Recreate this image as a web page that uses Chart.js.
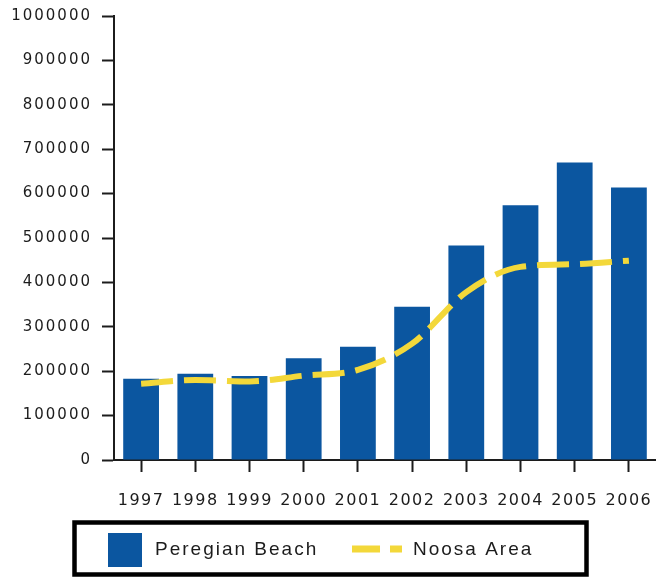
<!DOCTYPE html>
<html>
<head>
<meta charset="utf-8">
<script src="https://cdn.jsdelivr.net/npm/chart.js@4/dist/chart.umd.min.js"></script>
<style>
  html, body { margin: 0; padding: 0; background: #ffffff; }
  #wrap { width: 656px; height: 577px; position: relative; }
</style>
</head>
<body>
<div id="wrap"><canvas id="c" width="656" height="577"></canvas></div>
<script>
const categories = ['1997','1998','1999','2000','2001','2002','2003','2004','2005','2006'];
const peregianBeach = [183000, 194000, 189000, 229000, 255000, 345000, 483000, 574000, 670000, 614000];
const noosaArea = [172000, 180000, 177000, 190000, 203000, 262000, 378000, 435000, 441000, 449000];
const yTickMin = 0, yTickMax = 1000000, yTickStep = 100000;

const BLUE = '#0B56A0';
const YELLOW = '#F3D83A';
const INK = '#1c1c1c';

function wrapSpacing(s, spacing) {
  if (!s || s.__wrapped) return;
  const orig = s.drawLabels.bind(s);
  s.drawLabels = function (ca) {
    const ctx = this.ctx;
    ctx.save();
    try { ctx.letterSpacing = spacing; } catch (e) {}
    orig(ca);
    ctx.restore();
  };
  s.__wrapped = true;
}

const spacingPlugin = {
  id: 'tickSpacing',
  beforeDraw(chart) {
    wrapSpacing(chart.scales.y, '2px');
    wrapSpacing(chart.scales.x, '1.5px');
  }
};

const legendPlugin = {
  id: 'boxLegend',
  afterDraw(chart) {
    const ctx = chart.ctx;
    const ds = chart.data.datasets;
    ctx.save();
    ctx.strokeStyle = '#000';
    ctx.lineWidth = 4.5;
    ctx.strokeRect(74.5, 522.5, 512, 52);
    ctx.fillStyle = ds[0].backgroundColor;
    ctx.fillRect(108, 533, 34, 34);
    ctx.font = '19px "Liberation Sans", Arial, sans-serif';
    try { ctx.letterSpacing = '2px'; } catch (e) {}
    ctx.fillStyle = INK;
    ctx.textBaseline = 'middle';
    ctx.textAlign = 'left';
    ctx.fillText(ds[0].label, 155, 550);
    ctx.strokeStyle = ds[1].borderColor;
    ctx.lineWidth = 7;
    ctx.setLineDash([28, 10]);
    ctx.beginPath();
    ctx.moveTo(352, 549);
    ctx.lineTo(402, 549);
    ctx.stroke();
    ctx.setLineDash([]);
    ctx.fillText(ds[1].label, 413, 550);
    ctx.restore();
  }
};

new Chart(document.getElementById('c'), {
  type: 'bar',
  data: {
    labels: categories,
    datasets: [
      {
        type: 'bar',
        label: 'Peregian Beach',
        data: peregianBeach,
        backgroundColor: BLUE,
        borderWidth: 0,
        barPercentage: 0.66,
        categoryPercentage: 1.0,
        order: 2
      },
      {
        type: 'line',
        label: 'Noosa Area',
        data: noosaArea,
        borderColor: YELLOW,
        backgroundColor: YELLOW,
        borderWidth: 6,
        borderDash: [32, 11],
        borderCapStyle: 'butt',
        pointRadius: 0,
        pointHoverRadius: 0,
        cubicInterpolationMode: 'monotone',
        fill: false,
        order: 1
      }
    ]
  },
  options: {
    responsive: false,
    animation: false,
    events: [],
    layout: { padding: { top: 16, right: 0, left: 0, bottom: 57 } },
    plugins: {
      legend: { display: false },
      tooltip: { enabled: false },
      title: { display: false }
    },
    scales: {
      x: {
        offset: true,
        grid: {
          offset: false,
          drawOnChartArea: false,
          drawTicks: true,
          tickLength: 12,
          tickWidth: 2,
          tickColor: INK
        },
        border: { display: true, color: INK, width: 2 },
        ticks: {
          color: INK,
          padding: 19,
          maxRotation: 0,
          autoSkip: false,
          font: { family: '"DejaVu Sans", Verdana, sans-serif', size: 16 }
        },
        afterFit(scale) { scale.height = 60; scale.paddingLeft = 0; scale.paddingRight = 0; }
      },
      y: {
        min: yTickMin,
        max: yTickMax,
        grid: {
          drawOnChartArea: false,
          drawTicks: true,
          tickLength: 12,
          tickWidth: 2,
          tickColor: INK
        },
        border: { display: true, color: INK, width: 2 },
        ticks: {
          stepSize: yTickStep,
          color: INK,
          padding: 10,
          font: { family: '"DejaVu Sans", Verdana, sans-serif', size: 15 },
          callback: (v) => String(v)
        },
        afterFit(scale) { scale.width = 114; scale.paddingTop = 0; scale.paddingBottom = 0; }
      }
    }
  },
  plugins: [spacingPlugin, legendPlugin]
});
</script>
</body>
</html>
